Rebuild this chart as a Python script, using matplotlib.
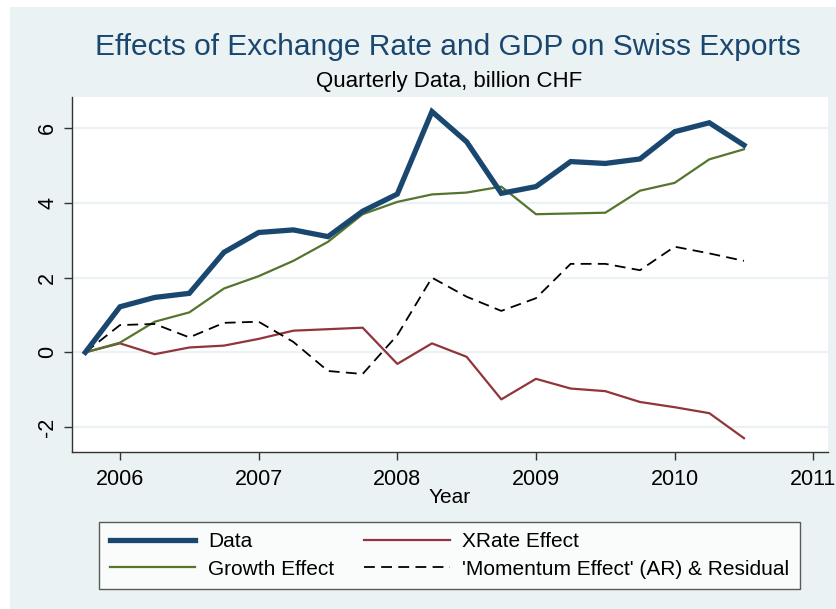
import numpy as np
import matplotlib
matplotlib.use("Agg")
import matplotlib.pyplot as plt
from matplotlib.patches import Rectangle

# quarterly data, billion CHF
quarters = [2005.75, 2006.0, 2006.25, 2006.5, 2006.75, 2007.0, 2007.25, 2007.5, 2007.75,
            2008.0, 2008.25, 2008.5, 2008.75, 2009.0, 2009.25, 2009.5, 2009.75,
            2010.0, 2010.25, 2010.5]
data = [0, 1.22, 1.47, 1.58, 2.68, 3.21, 3.28, 3.10, 3.78, 4.24, 6.45, 5.64, 4.26,
        4.44, 5.11, 5.06, 5.18, 5.91, 6.15, 5.55]
xrate = [0, 0.24, -0.05, 0.13, 0.18, 0.36, 0.58, 0.62, 0.66, -0.31, 0.24, -0.12, -1.26,
         -0.71, -0.97, -1.04, -1.33, -1.47, -1.63, -2.30]
growth = [0, 0.26, 0.82, 1.07, 1.71, 2.04, 2.45, 2.96, 3.70, 4.03, 4.23, 4.28, 4.44,
          3.70, 3.72, 3.74, 4.33, 4.54, 5.17, 5.44]
momentum = [0, 0.73, 0.76, 0.40, 0.79, 0.82, 0.28, -0.50, -0.58, 0.46, 2.00, 1.49, 1.11,
            1.45, 2.37, 2.37, 2.20, 2.83, 2.65, 2.45]

xticks = [2006, 2007, 2008, 2009, 2010, 2011]
yticks = [-2, 0, 2, 4, 6]

bg = "#eaf2f3"
navy = "#1a476f"
maroon = "#90353b"
green = "#55752f"

plt.rcParams["font.family"] = ["Liberation Sans", "DejaVu Sans"]

fig = plt.figure(figsize=(8.37, 6.09), dpi=100, facecolor="white")
fig.patches.append(Rectangle((10/837, 0), 1, 1 - 7/609, transform=fig.transFigure,
                             facecolor=bg, edgecolor="none", zorder=-10))

ax = fig.add_axes([72/837, 1 - 452/609, (828 - 72)/837, (452 - 97)/609])
ax.set_facecolor("white")

l1, = ax.plot(quarters, data, color=navy, lw=3.8, solid_joinstyle="miter", zorder=5)
l2, = ax.plot(quarters, xrate, color=maroon, lw=1.6, zorder=4)
l3, = ax.plot(quarters, growth, color=green, lw=1.6, zorder=4)
l4, = ax.plot(quarters, momentum, color="black", lw=1.3, dashes=(6, 3.5), zorder=4)

ax.set_xlim(2005.654, 2011.106)
ax.set_ylim(-2.67, 6.84)
ax.set_xticks(xticks)
ax.set_yticks(yticks)
ax.set_yticklabels([str(v) for v in yticks], rotation=90, va="center")
ax.tick_params(axis="both", labelsize=15.5, length=6, width=1, color="#333333", pad=4)
ax.tick_params(axis="x", pad=6)
ax.grid(axis="y", color=bg, lw=1.6)
ax.set_axisbelow(True)
for s in ["top", "right"]:
    ax.spines[s].set_visible(False)
for s in ["left", "bottom"]:
    ax.spines[s].set_color("#333333")
    ax.spines[s].set_linewidth(1)

ax.set_xlabel("Year", fontsize=15, labelpad=-1)

fig.text(448/837, 1 - 47/609, "Effects of Exchange Rate and GDP on Swiss Exports",
         ha="center", va="center", fontsize=21.5, color=navy)
fig.text(449/837, 1 - 82/609, "Quarterly Data, billion CHF",
         ha="center", va="center", fontsize=16, color="black")

# Stata fills the legend row-wise, matplotlib column-wise
leg = fig.legend([l1, l3, l2, l4],
                 ["Data", "Growth Effect", "XRate Effect", "'Momentum Effect' (AR) & Residual"],
                 ncol=2, loc="center", bbox_to_anchor=(449.5/837, 1 - 555.5/609),
                 fontsize=15, frameon=True, fancybox=False, handlelength=4.1,
                 handletextpad=0.6, columnspacing=1.45, labelspacing=0.4, borderpad=0.5)
leg.get_frame().set_edgecolor("#333333")
leg.get_frame().set_linewidth(1)

fig.savefig("out.png", dpi=100, facecolor="white")
